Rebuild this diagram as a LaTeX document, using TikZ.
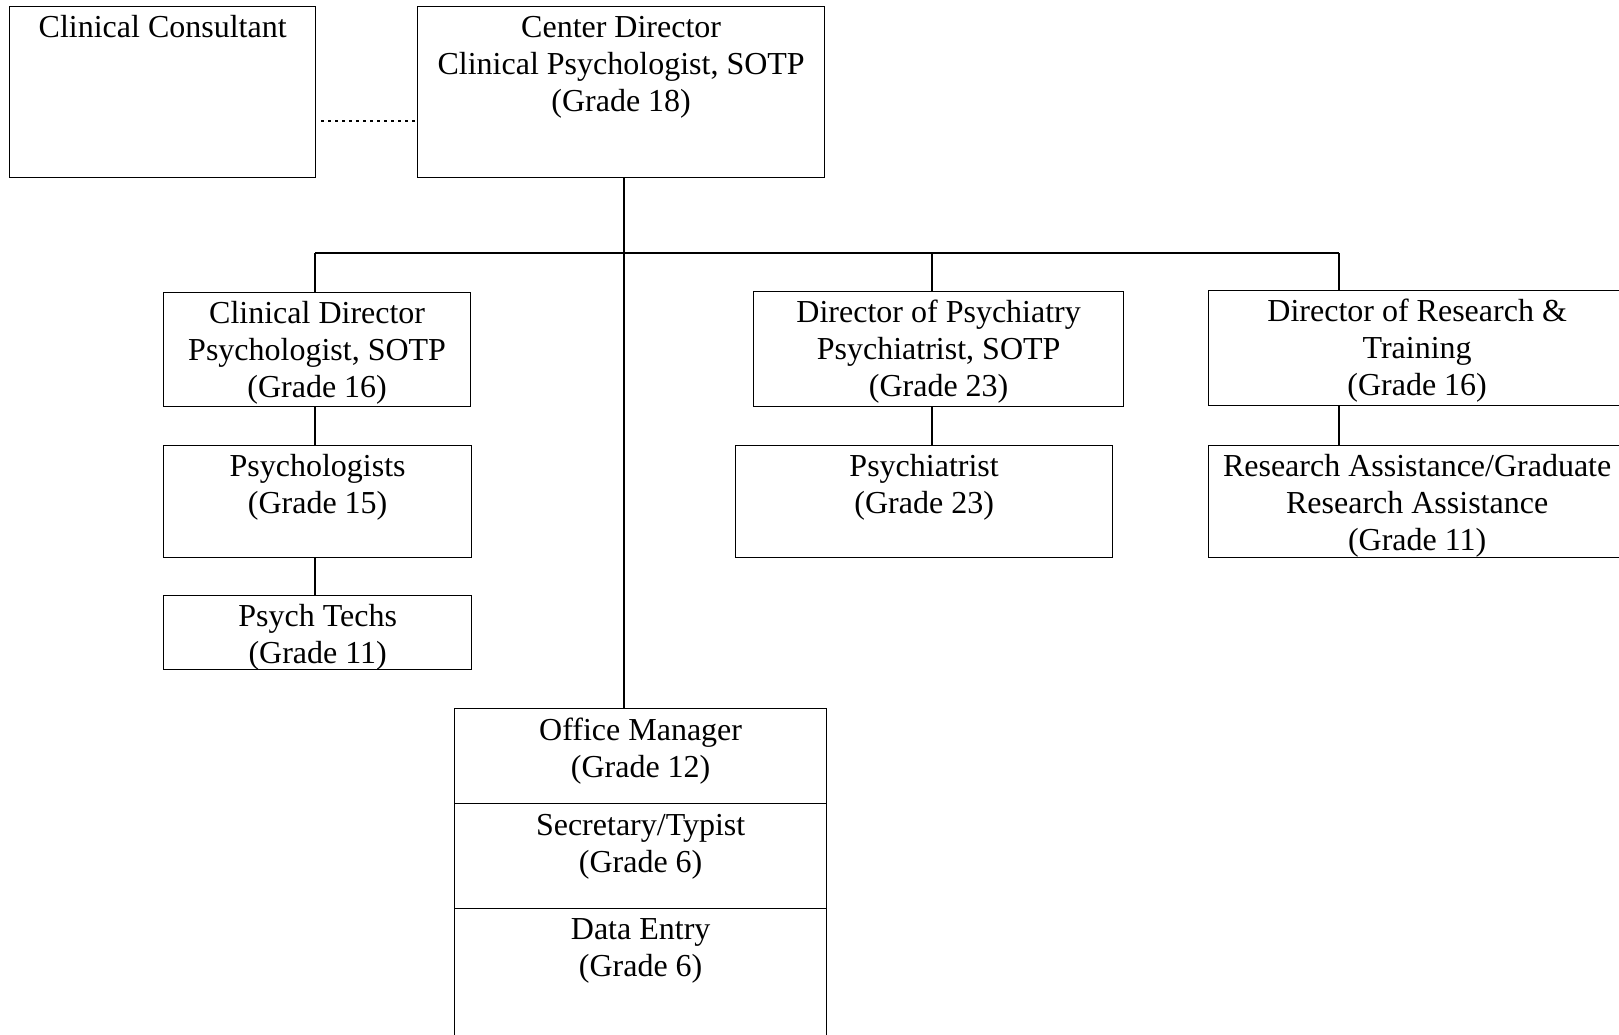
\documentclass[tikz,border=0pt]{standalone}
\usepackage{fontspec}
\setmainfont{Liberation Serif}
\begin{document}
\begin{tikzpicture}[x=1pt,y=-1pt,
  box/.style={draw, line width=1.3pt, rectangle, anchor=north west, inner sep=0pt},
  txt/.style={anchor=north, inner sep=0pt, align=center, font=\fontsize{32}{37.2}\selectfont},
  conn/.style={line width=1.3pt},
  dotline/.style={line width=1.3pt, dash pattern=on 3pt off 4pt}]
\useasboundingbox (0,0) rectangle (1619,1035);
\clip (0,0) rectangle (1619,1035);
% boxes
\node[box, minimum width=306pt, minimum height=171pt] (cc) at (9,6) {};
\node[box, minimum width=407pt, minimum height=171pt] (cd) at (417,6) {};
\node[box, minimum width=307pt, minimum height=114pt] (clind) at (163,292) {};
\node[box, minimum width=308pt, minimum height=112pt] (psychs) at (163,445) {};
\node[box, minimum width=308pt, minimum height=74pt] (techs) at (163,595) {};
\node[box, minimum width=370pt, minimum height=115pt] (dop) at (753,291) {};
\node[box, minimum width=377pt, minimum height=112pt] (psyt) at (735,445) {};
\node[box, minimum width=417pt, minimum height=115pt] (dor) at (1208,290) {};
\node[box, minimum width=417pt, minimum height=112pt] (ra) at (1208,445) {};
\node[box, minimum width=372pt, minimum height=95pt] (om) at (454,708) {};
\node[box, minimum width=372pt, minimum height=105pt] (sec) at (454,803) {};
\node[box, minimum width=372pt, minimum height=140pt] (de) at (454,908) {};
% texts
\node[txt] (tcc) at ([yshift=-5pt]cc.north) {\strut Clinical Consultant};
\node[txt] (tcd) at ([yshift=-5pt]cd.north) {\strut Center Director\\\strut Clinical Psychologist, SOTP\\\strut (Grade 18)};
\node[txt] (tclind) at ([yshift=-5pt]clind.north) {\strut Clinical Director\\\strut Psychologist, SOTP\\\strut (Grade 16)};
\node[txt] (tpsychs) at ([yshift=-5pt]psychs.north) {\strut Psychologists\\\strut (Grade 15)};
\node[txt] (ttechs) at ([yshift=-5pt]techs.north) {\strut Psych Techs\\\strut (Grade 11)};
\node[txt] (tdop) at ([yshift=-5pt]dop.north) {\strut Director of Psychiatry\\\strut Psychiatrist, SOTP\\\strut (Grade 23)};
\node[txt] (tpsyt) at ([yshift=-5pt]psyt.north) {\strut Psychiatrist\\\strut (Grade 23)};
\node[txt] (tdor) at ([yshift=-5pt]dor.north) {\strut Director of Research \&\\\strut Training\\\strut (Grade 16)};
\node[txt] (tra) at ([yshift=-5pt]ra.north) {\strut Research Assistance/Graduate\\\strut Research Assistance\\\strut (Grade 11)};
\node[txt] (tom) at ([yshift=-6pt]om.north) {\strut Office Manager\\\strut (Grade 12)};
\node[txt] (tsec) at ([yshift=-6pt]sec.north) {\strut Secretary/Typist\\\strut (Grade 6)};
\node[txt] (tde) at ([yshift=-5pt]de.north) {\strut Data Entry\\\strut (Grade 6)};
% connector coordinates
\coordinate (bL) at (315,253);
\coordinate (bM) at (932,253);
\coordinate (bR) at (1339,253);
\coordinate (tr) at (624,253);
\coordinate (dl) at (321,121);
% connectors
\draw[dotline] (dl) -- (dl -| cd.west);
\draw[conn] (tr |- cd.south) -- (tr |- om.north);
\draw[conn] (bL) -- (bR);
\draw[conn] (bL) -- (bL |- clind.north);
\draw[conn] (bM) -- (bM |- dop.north);
\draw[conn] (bR) -- (bR |- dor.north);
\draw[conn] (bL |- clind.south) -- (bL |- psychs.north);
\draw[conn] (bL |- psychs.south) -- (bL |- techs.north);
\draw[conn] (bM |- dop.south) -- (bM |- psyt.north);
\draw[conn] (bR |- dor.south) -- (bR |- ra.north);
\end{tikzpicture}
\end{document}
